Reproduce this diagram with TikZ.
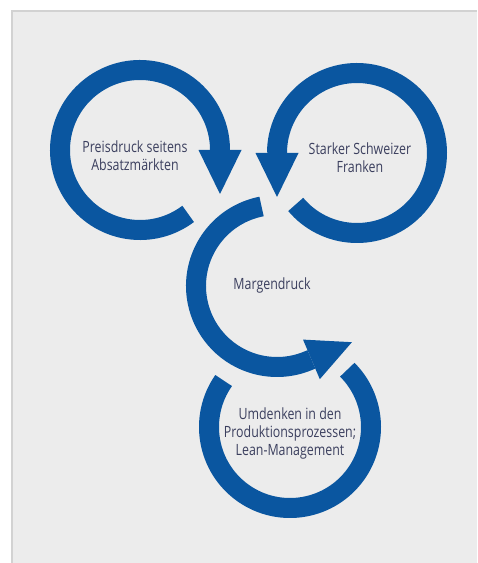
\documentclass[tikz,border=0pt]{standalone}
\usepackage{fontspec}
\setmainfont{Open Sans}[FakeStretch=0.8]
\usetikzlibrary{arrows.meta}
\definecolor{ringblue}{HTML}{0A56A0}
\definecolor{labelgray}{HTML}{3B3F5E}
\definecolor{panelgray}{HTML}{ECECEC}
\definecolor{edgegray}{HTML}{D2D2D2}

\begin{document}
\begin{tikzpicture}[x=1pt,y=1pt,
  ring/.style={draw=ringblue,line width=20pt},
  tip/.style={-{Triangle[width=43pt,length=44pt,line width=0pt]}},
  lbl/.style={text=labelgray,align=center,font=\fontsize{15.5}{18}\selectfont}]
\useasboundingbox (0,0) rectangle (478,563);
\fill[panelgray] (12,0) rectangle (477,552);
\draw[edgegray,line width=1.2pt] (12,0) -- (12,552) -- (477,552);
\coordinate (c0) at (140,413);
\coordinate (c1) at (357,410);
\coordinate (c2) at (277,277);
\coordinate (c3) at (290,136);
\draw[ring,tip] (c0) ++(-53:80) arc[start angle=-53,end angle=-360,radius=80] -- ++(0,-44);
\draw[ring,tip] (c1) ++(-140:80) arc[start angle=-140,end angle=180,radius=80] -- ++(0,-44);
\draw[ring,tip] (c2) ++(101:81) arc[start angle=101,end angle=293,radius=81] -- ++(23:47);
\draw[ring] (c3) ++(145:81) arc[start angle=145,end angle=405,radius=81];
\node[lbl] (n0) at (135,407) {Preisdruck seitens\\Absatzmärkten};
\node[lbl] (n1) at (360,405) {Starker Schweizer\\Franken};
\node[lbl] (n2) at (272,278) {Margendruck};
\node[lbl] (n3) at (290,130) {Umdenken in den\\Produktionsprozessen;\\Lean-Management};
\end{tikzpicture}
\end{document}
